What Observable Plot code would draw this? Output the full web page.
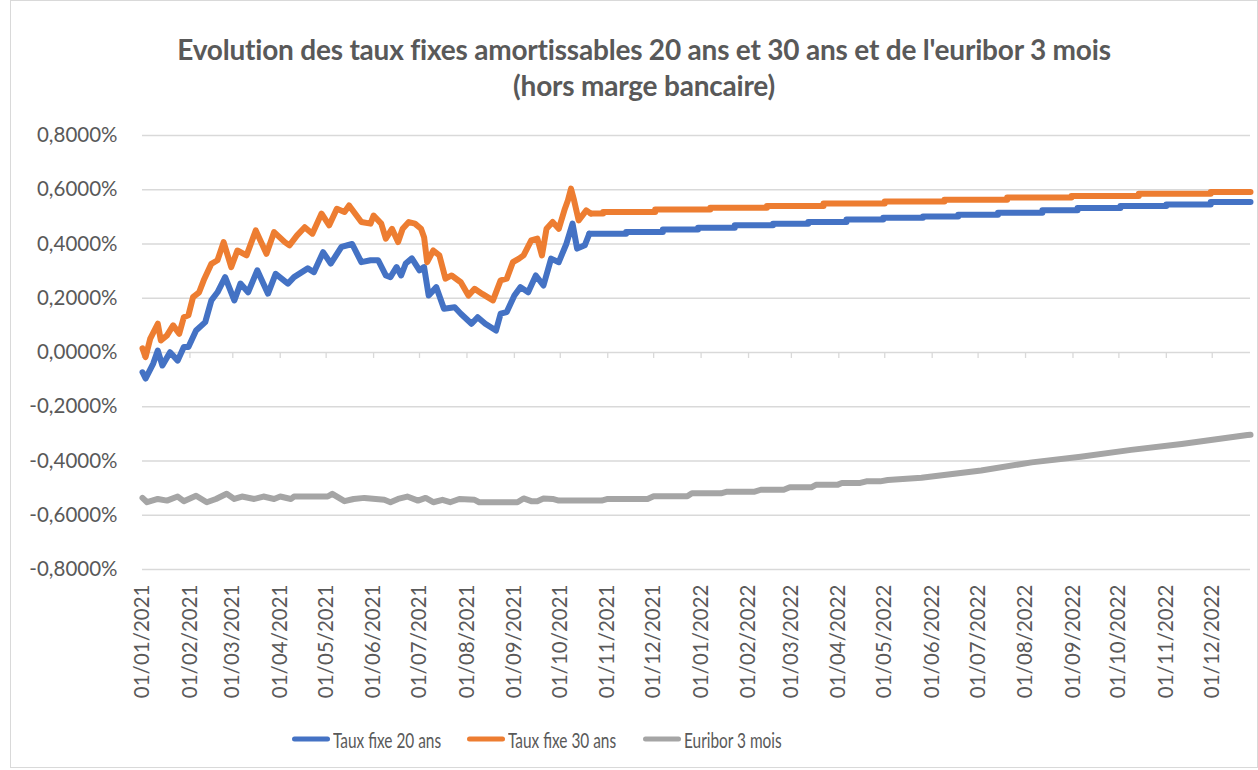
<!DOCTYPE html>
<html>
<head>
<meta charset="utf-8">
<script src="https://cdn.jsdelivr.net/npm/d3@7"></script>
<script src="https://cdn.jsdelivr.net/npm/@observablehq/plot@0.6"></script>
<style>
  html, body { margin: 0; padding: 0; background: #fff; }
  #wrap { position: relative; width: 1258px; height: 770px; overflow: hidden; font-family: Lato, "Open Sans", sans-serif; color: #595959; }
  #frame { position: absolute; left: 10px; top: 0px; width: 1246px; height: 766px; border: 1px solid #d9d9d9; pointer-events: none; }
  #title { height: 102px; box-sizing: border-box; padding-top: 31px; text-align: center; font-weight: bold; font-size: 28px; line-height: 36px; padding-left: 30px; letter-spacing: -0.2px; }
  #legend { position: relative; height: 55px; font-size: 22px; }
  .item { position: absolute; top: 24px; transform: translateY(-50%); display: flex; align-items: center; white-space: nowrap; }
  .sw { width: 38px; height: 5px; border-radius: 3px; margin-right: 3px; }
  .lt { display: inline-block; transform: scaleX(0.7); transform-origin: left center; }
  svg { display: block; }
</style>
</head>
<body>
<div id="wrap">
  <div id="frame"></div>
  <div id="title">Evolution des taux fixes amortissables 20 ans et 30 ans et de l'euribor 3 mois<br>(hors marge bancaire)</div>
  <div id="chart"></div>
  <div id="legend"></div>
</div>
<script>
// ---------- DATA ----------
const seriesNames = ["Taux fixe 20 ans", "Taux fixe 30 ans", "Euribor 3 mois"];
const seriesColors = ["#4472C4", "#ED7D31", "#A5A5A5"];
const yTicks = [-0.8, -0.6, -0.4, -0.2, 0, 0.2, 0.4, 0.6, 0.8];

// Taux fixe 20 ans (volatile part, 2021)
const dates20 = ["2021-01-01","2021-01-03","2021-01-08","2021-01-11","2021-01-14","2021-01-19","2021-01-24","2021-01-28","2021-01-31","2021-02-05","2021-02-11","2021-02-15","2021-02-19","2021-02-24","2021-03-02","2021-03-06","2021-03-11","2021-03-17","2021-03-24","2021-03-29","2021-04-06","2021-04-10","2021-04-19","2021-04-23","2021-04-29","2021-05-04","2021-05-11","2021-05-18","2021-05-24","2021-05-30","2021-06-04","2021-06-09","2021-06-12","2021-06-16","2021-06-19","2021-06-22","2021-06-26","2021-07-01","2021-07-04","2021-07-07","2021-07-12","2021-07-17","2021-07-24","2021-07-28","2021-08-04","2021-08-08","2021-08-13","2021-08-20","2021-08-23","2021-08-27","2021-09-01","2021-09-05","2021-09-10","2021-09-15","2021-09-20","2021-09-25","2021-09-30","2021-10-05","2021-10-09","2021-10-12","2021-10-17","2021-10-20"];
const values20 = [-0.073,-0.096,-0.041,0.007,-0.048,0.001,-0.03,0.02,0.02,0.081,0.112,0.192,0.222,0.278,0.192,0.254,0.222,0.303,0.217,0.29,0.254,0.278,0.31,0.296,0.37,0.328,0.389,0.40,0.333,0.34,0.34,0.284,0.278,0.315,0.284,0.328,0.347,0.303,0.315,0.21,0.241,0.161,0.167,0.143,0.106,0.13,0.106,0.081,0.143,0.149,0.21,0.241,0.222,0.284,0.247,0.346,0.333,0.401,0.475,0.383,0.395,0.438];
// Taux fixe 20 ans (stepwise part)
const stepDates20 = ["2021-10-20","2021-11-13","2021-12-07","2021-12-30","2022-01-23","2022-02-17","2022-03-12","2022-04-06","2022-04-30","2022-05-26","2022-06-18","2022-07-14","2022-08-12","2022-09-04","2022-10-02","2022-11-01","2022-11-30","2022-12-26"];
const stepValues20 = [0.438,0.444,0.453,0.46,0.469,0.475,0.481,0.49,0.497,0.501,0.508,0.515,0.524,0.533,0.54,0.546,0.555,0.555];

// Taux fixe 30 ans (volatile part, 2021)
const dates30 = ["2021-01-01","2021-01-03","2021-01-06","2021-01-11","2021-01-13","2021-01-17","2021-01-21","2021-01-25","2021-01-28","2021-01-31","2021-02-03","2021-02-07","2021-02-10","2021-02-15","2021-02-19","2021-02-23","2021-02-28","2021-03-04","2021-03-10","2021-03-16","2021-03-23","2021-03-28","2021-04-04","2021-04-07","2021-04-12","2021-04-17","2021-04-22","2021-04-28","2021-05-03","2021-05-08","2021-05-13","2021-05-16","2021-05-24","2021-05-30","2021-06-01","2021-06-06","2021-06-09","2021-06-13","2021-06-17","2021-06-20","2021-06-24","2021-06-28","2021-07-02","2021-07-04","2021-07-06","2021-07-10","2021-07-14","2021-07-18","2021-07-22","2021-07-28","2021-08-02","2021-08-06","2021-08-11","2021-08-18","2021-08-23","2021-08-27","2021-08-31","2021-09-04","2021-09-07","2021-09-12","2021-09-16","2021-09-19","2021-09-22","2021-09-26","2021-09-30","2021-10-04","2021-10-06","2021-10-08","2021-10-10","2021-10-13","2021-10-18","2021-10-21"];
const values30 = [0.015,-0.017,0.05,0.106,0.044,0.063,0.1,0.069,0.13,0.137,0.204,0.222,0.266,0.327,0.34,0.407,0.315,0.376,0.358,0.45,0.364,0.444,0.407,0.395,0.432,0.462,0.438,0.512,0.469,0.53,0.518,0.542,0.481,0.475,0.505,0.475,0.42,0.456,0.407,0.456,0.481,0.475,0.456,0.425,0.333,0.376,0.358,0.272,0.284,0.259,0.21,0.235,0.216,0.192,0.266,0.272,0.333,0.346,0.358,0.413,0.42,0.358,0.456,0.481,0.456,0.53,0.561,0.604,0.561,0.487,0.524,0.512];
// Taux fixe 30 ans (stepwise part)
const stepDates30 = ["2021-10-21","2021-10-29","2021-12-02","2022-01-07","2022-02-13","2022-03-22","2022-05-01","2022-06-09","2022-07-20","2022-08-31","2022-10-14","2022-11-30","2022-12-26"];
const stepValues30 = [0.512,0.518,0.527,0.534,0.54,0.549,0.557,0.563,0.571,0.577,0.585,0.592,0.592];

// Euribor 3 mois
const datesEur = ["2021-01-01","2021-01-04","2021-01-11","2021-01-17","2021-01-24","2021-01-28","2021-02-05","2021-02-12","2021-02-18","2021-02-25","2021-03-02","2021-03-07","2021-03-15","2021-03-21","2021-03-28","2021-04-01","2021-04-08","2021-04-10","2021-05-02","2021-05-05","2021-05-13","2021-05-19","2021-05-26","2021-06-08","2021-06-12","2021-06-17","2021-06-23","2021-06-30","2021-07-05","2021-07-10","2021-07-16","2021-07-21","2021-07-27","2021-08-06","2021-08-09","2021-09-03","2021-09-07","2021-09-12","2021-09-16","2021-09-20","2021-09-26","2021-09-30","2021-10-28","2021-11-01","2021-11-27","2021-12-01","2021-12-23","2021-12-26","2022-01-14","2022-01-18","2022-02-05","2022-02-09","2022-02-24","2022-02-28","2022-03-14","2022-03-17","2022-03-31","2022-04-03","2022-04-15","2022-04-19","2022-04-28","2022-05-03","2022-05-25","2022-07-03","2022-08-05","2022-09-06","2022-10-09","2022-11-11","2022-12-24","2022-12-26"];
const valuesEur = [-0.536,-0.552,-0.540,-0.546,-0.531,-0.548,-0.528,-0.552,-0.540,-0.521,-0.540,-0.531,-0.540,-0.531,-0.540,-0.531,-0.540,-0.531,-0.531,-0.521,-0.548,-0.540,-0.536,-0.543,-0.552,-0.540,-0.531,-0.546,-0.536,-0.552,-0.543,-0.552,-0.540,-0.543,-0.552,-0.552,-0.538,-0.548,-0.548,-0.538,-0.540,-0.546,-0.546,-0.540,-0.540,-0.530,-0.530,-0.519,-0.519,-0.513,-0.513,-0.506,-0.506,-0.497,-0.497,-0.488,-0.488,-0.481,-0.481,-0.475,-0.475,-0.470,-0.462,-0.435,-0.405,-0.384,-0.359,-0.337,-0.304,-0.303];

// ---------- BUILD ----------
const toRows = (ds, vs) => ds.map((d, i) => ({date: new Date(d + "T00:00:00Z"), value: vs[i]}));
const rows20 = toRows(dates20, values20), rowsStep20 = toRows(stepDates20, stepValues20);
const rows30 = toRows(dates30, values30), rowsStep30 = toRows(stepDates30, stepValues30);
const rowsEur = toRows(datesEur, valuesEur);

const xStart = new Date("2021-01-01T00:00:00Z"), xEnd = new Date("2022-12-26T00:00:00Z");
const monthTicks = d3.utcMonth.range(xStart, xEnd);
const fmtY = v => (v < -1e-9 ? "-" : "") + Math.abs(v).toFixed(4).replace(".", ",") + "%";
const lineStyle = {x: "date", y: "value", strokeWidth: 6, strokeLinejoin: "round", strokeLinecap: "round"};

const chart = Plot.plot({
  width: 1258, height: 613,
  marginLeft: 142, marginRight: 8, marginTop: 33, marginBottom: 146,
  x: {type: "utc", domain: [xStart, xEnd]},
  y: {domain: [-0.8, 0.8]},
  style: {fontFamily: "Lato, 'Open Sans', sans-serif", color: "#595959", background: "transparent", overflow: "visible"},
  marks: [
    Plot.ruleY(yTicks, {stroke: "#d9d9d9", strokeWidth: 1.3}),
    Plot.ruleX(monthTicks, {x: d => d, y1: 0, y2: -0.022, stroke: "#d9d9d9", strokeWidth: 1.3}),
    Plot.axisY({ticks: yTicks, tickFormat: fmtY, tickSize: 0, tickPadding: 25, fontSize: 20.5, label: null}),
    Plot.axisX({ticks: monthTicks, tickFormat: d3.utcFormat("%d/%m/%Y"), tickRotate: -90, tickSize: 0, tickPadding: 15, fontSize: 20.5, label: null}),
    Plot.line(rows20, {...lineStyle, stroke: seriesColors[0]}),
    Plot.line(rowsStep20, {...lineStyle, stroke: seriesColors[0], curve: "step-after"}),
    Plot.line(rows30, {...lineStyle, stroke: seriesColors[1]}),
    Plot.line(rowsStep30, {...lineStyle, stroke: seriesColors[1], curve: "step-after"}),
    Plot.line(rowsEur, {...lineStyle, stroke: seriesColors[2]})
  ]
});
document.getElementById("chart").appendChild(chart);

// legend
const legendLefts = [292, 467, 643];
const legend = document.getElementById("legend");
seriesNames.forEach((name, i) => {
  const it = document.createElement("div");
  it.className = "item";
  it.style.left = legendLefts[i] + "px";
  const sw = document.createElement("div");
  sw.className = "sw";
  sw.style.background = seriesColors[i];
  const tx = document.createElement("span");
  tx.className = "lt";
  tx.textContent = name;
  it.appendChild(sw); it.appendChild(tx);
  legend.appendChild(it);
});
</script>
</body>
</html>
